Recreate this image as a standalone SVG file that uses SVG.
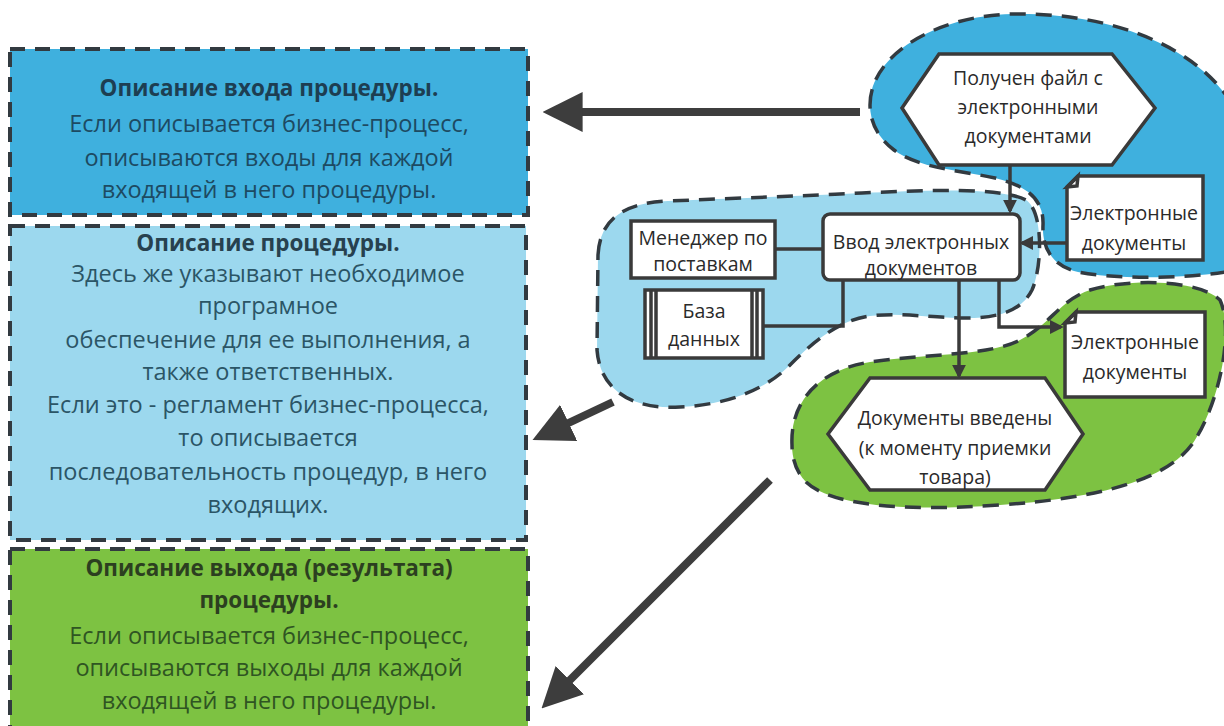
<svg xmlns="http://www.w3.org/2000/svg" width="1224" height="726" viewBox="0 0 1224 726">
  <style>
    .panel { stroke: #323a40; stroke-width: 4; stroke-dasharray: 15 10; }
    .blob { stroke: #323a40; stroke-width: 3.5; stroke-dasharray: 16 10; }
    .node { fill: #ffffff; stroke: #3a3a3a; stroke-width: 3.5; }
    .conn { fill: none; stroke: #3a3a3a; stroke-width: 3.5; }
    .big { fill: none; stroke: #3d3d3d; stroke-width: 8; }
    .t { font-family: "Open Sans", "Liberation Sans", sans-serif; text-anchor: middle; }
    .ptxt { font-size: 23.5px; }
    .pbold { font-size: 22.5px; font-weight: bold; }
    .ntxt { font-size: 19.5px; fill: #2a2a2a; }
  </style>
  <defs>
    <marker id="arr" markerWidth="4" markerHeight="4" refX="3.2" refY="2" orient="auto" markerUnits="strokeWidth">
      <path d="M0,0 L4,2 L0,4 Z" fill="#3a3a3a"/>
    </marker>
    <marker id="bigarr" markerWidth="5" markerHeight="5" refX="1.2" refY="2.5" orient="auto" markerUnits="strokeWidth">
      <path d="M0,0 L5,2.5 L0,5 Z" fill="#3d3d3d"/>
    </marker>
  </defs>

  <rect width="1224" height="726" fill="#ffffff"/>

  <!-- left description panels -->
  <g id="panel-input">
    <rect class="panel" x="10" y="49" width="518" height="166" fill="#3fb0de"/>
    <text class="t pbold" x="269" y="96" fill="#1d3e52">Описание входа процедуры.</text>
    <text class="t ptxt" x="269" y="132" fill="#1d4a62">Если описывается бизнес-процесс,</text>
    <text class="t ptxt" x="269" y="166" fill="#1d4a62">описываются входы для каждой</text>
    <text class="t ptxt" x="269" y="198" fill="#1d4a62">входящей в него процедуры.</text>
  </g>

  <g id="panel-procedure">
    <rect class="panel" x="10" y="226" width="516" height="314" fill="#9cd8ee"/>
    <text class="t pbold" x="268" y="251" fill="#27414f">Описание процедуры.</text>
    <text class="t ptxt" x="268" y="282" fill="#2b5566">Здесь же указывают необходимое</text>
    <text class="t ptxt" x="268" y="314" fill="#2b5566">програмное</text>
    <text class="t ptxt" x="268" y="348" fill="#2b5566">обеспечение для ее выполнения, а</text>
    <text class="t ptxt" x="268" y="380" fill="#2b5566">также ответственных.</text>
    <text class="t ptxt" x="268" y="413" fill="#2b5566">Если это - регламент бизнес-процесса,</text>
    <text class="t ptxt" x="268" y="446" fill="#2b5566">то описывается</text>
    <text class="t ptxt" x="268" y="480" fill="#2b5566">последовательность процедур, в него</text>
    <text class="t ptxt" x="268" y="513" fill="#2b5566">входящих.</text>
  </g>

  <g id="panel-output">
    <rect class="panel" x="10" y="549" width="518" height="190" fill="#7dc242"/>
    <text class="t pbold" x="269" y="576" fill="#2c3f20">Описание выхода (результата)</text>
    <text class="t pbold" x="269" y="608" fill="#2c3f20">процедуры.</text>
    <text class="t ptxt" x="269" y="644" fill="#2f5522">Если описывается бизнес-процесс,</text>
    <text class="t ptxt" x="269" y="676" fill="#2f5522">описываются выходы для каждой</text>
    <text class="t ptxt" x="269" y="709" fill="#2f5522">входящей в него процедуры.</text>
  </g>

  <!-- coloured regions behind the process fragment -->
  <g id="region-input">
    <path class="blob" fill="#3fb0de" d="M 870,105 C 870,55 935,16 1012,14 C 1100,12 1185,40 1226,95 L 1226,272 C 1180,279 1110,279 1078,272 C 1052,266 1042,248 1043,225 C 1044,200 1028,186 995,178 C 958,170 918,168 894,150 C 878,138 870,122 870,105 Z"/>
  </g>
  <g id="region-procedure">
    <path class="blob" fill="#9cd8ee" d="M 598,255 C 600,218 625,203 668,201 C 740,198 800,196 862,193 C 930,190 1000,187 1026,200 C 1044,212 1042,268 1032,290 C 1022,310 1000,318 966,318 C 930,318 900,312 870,316 C 840,320 815,340 790,365 C 762,393 722,405 680,407 C 632,410 600,390 597,350 Z"/>
  </g>
  <g id="region-output">
    <path class="blob" fill="#7dc242" d="M 792,445 C 790,400 820,370 870,362 C 920,354 990,356 1020,340 C 1050,325 1060,300 1090,290 C 1130,278 1200,280 1220,300 C 1234,330 1220,400 1195,440 C 1170,480 1100,498 1000,505 C 900,512 830,505 806,482 C 796,472 792,458 792,445 Z"/>
  </g>

  <!-- connectors -->
  <g id="connectors">
    <path class="conn" d="M 1010,166 V 211" marker-end="url(#arr)"/>
    <path class="conn" d="M 1066,243 H 1022" marker-end="url(#arr)"/>
    <path class="conn" d="M 775,249 H 823"/>
    <path class="conn" d="M 763,326 H 843 V 281"/>
    <path class="conn" d="M 959,281 V 376" marker-end="url(#arr)"/>
    <path class="conn" d="M 999,281 V 327 H 1061" marker-end="url(#arr)"/>
    <path class="big" d="M 860,112 H 573" marker-end="url(#bigarr)"/>
    <path class="big" d="M 613,402 L 560,427" marker-end="url(#bigarr)"/>
    <path class="big" d="M 770,480 L 563,687" marker-end="url(#bigarr)"/>
  </g>

  <!-- process nodes -->
  <g id="event-file-received">
    <polygon class="node" points="902,108 939,54 1112,54 1155,108 1112,165 939,165"/>
    <text class="t ntxt" x="1028" y="85">Получен файл с</text>
    <text class="t ntxt" x="1028" y="114">электронными</text>
    <text class="t ntxt" x="1028" y="143">документами</text>
  </g>

  <g id="doc-input">
    <path class="node" d="M 1078,176 H 1203 V 260 H 1067 V 187 Z"/>
    <path class="conn" d="M 1067,187 L 1078,176 L 1077,186 Z" stroke-width="1.5"/>
    <text class="t ntxt" x="1134" y="220">Электронные</text>
    <text class="t ntxt" x="1134" y="250">документы</text>
  </g>

  <g id="function-entry">
    <rect class="node" x="823" y="214" width="197" height="66" rx="7"/>
    <text class="t ntxt" x="921" y="249">Ввод электронных</text>
    <text class="t ntxt" x="921" y="275">документов</text>
  </g>

  <g id="role-manager">
    <rect class="node" x="631" y="221" width="144" height="57"/>
    <text class="t ntxt" x="703" y="245">Менеджер по</text>
    <text class="t ntxt" x="703" y="271">поставкам</text>
  </g>

  <g id="system-database">
    <rect class="node" x="645" y="290" width="118" height="68"/>
    <path class="conn" d="M 651,291 V 357 M 656,291 V 357 M 752,291 V 357 M 757,291 V 357" stroke-width="1.5"/>
    <text class="t ntxt" x="704" y="318">База</text>
    <text class="t ntxt" x="704" y="346">данных</text>
  </g>

  <g id="doc-output">
    <path class="node" d="M 1076,312 H 1205 V 397 H 1065 V 323 Z"/>
    <path class="conn" d="M 1065,323 L 1076,312 L 1075,322 Z" stroke-width="1.5"/>
    <text class="t ntxt" x="1135" y="349">Электронные</text>
    <text class="t ntxt" x="1135" y="379">документы</text>
  </g>

  <g id="event-docs-entered">
    <polygon class="node" points="828,434 870,378 1045,378 1083,434 1045,490 870,490"/>
    <text class="t ntxt" x="955" y="425">Документы введены</text>
    <text class="t ntxt" x="955" y="455">(к моменту приемки</text>
    <text class="t ntxt" x="955" y="484">товара)</text>
  </g>
</svg>
